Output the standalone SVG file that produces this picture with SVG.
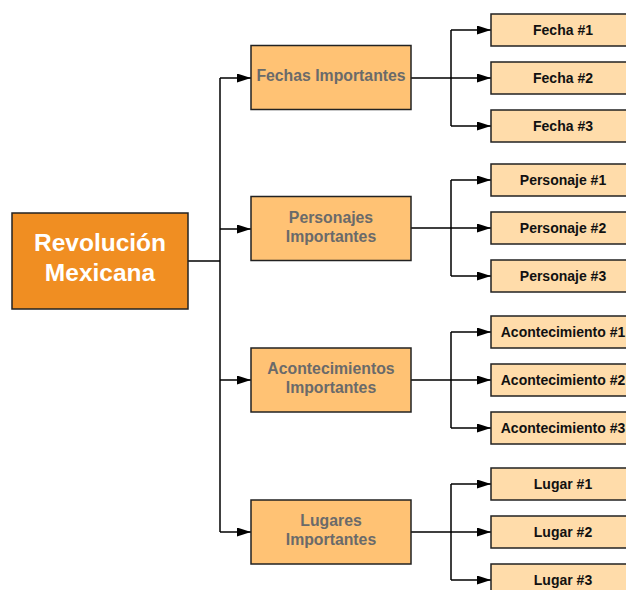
<svg xmlns="http://www.w3.org/2000/svg" width="626" height="590" viewBox="0 0 626 590">
  <defs>
    <marker id="arrow" viewBox="0 0 14 9" refX="14" refY="4.5" markerWidth="14" markerHeight="9" markerUnits="userSpaceOnUse" orient="auto">
      <path d="M0,0 L14,4.5 L0,9 Z" fill="#000"/>
    </marker>
  </defs>
  <style>
    .edge { fill: none; stroke: #000; stroke-width: 1.5; }
    .arr { marker-end: url(#arrow); }
    .root rect { fill: #F08E22; stroke: #222; stroke-width: 1.5; }
    .root text { fill: #fff; font: bold 24.5px "Liberation Sans", Arial, sans-serif; text-anchor: middle; }
    .topic rect { fill: #FFC274; stroke: #222; stroke-width: 1.5; }
    .topic text { fill: #6a6a6a; font: bold 15.8px "Liberation Sans", Arial, sans-serif; text-anchor: middle; }
    .leaf rect { fill: #FFDCAA; stroke: #222; stroke-width: 1.5; }
    .leaf text { fill: #111; font: bold 14px "Liberation Sans", Arial, sans-serif; text-anchor: middle; }
  </style>
  <rect width="626" height="590" fill="#fff"/>

  <g id="connectors">
    <!-- root to trunk -->
    <path class="edge" d="M188,261 H220"/>
    <path class="edge" d="M220,78 V532"/>
    <path class="edge arr" d="M220,78 H251"/>
    <path class="edge arr" d="M220,229 H251"/>
    <path class="edge arr" d="M220,380 H251"/>
    <path class="edge arr" d="M220,532 H251"/>
    <!-- Fechas -->
    <path class="edge" d="M411,78 H451 M451,30 V126"/>
    <path class="edge arr" d="M451,30 H491"/>
    <path class="edge arr" d="M451,78 H491"/>
    <path class="edge arr" d="M451,126 H491"/>
    <!-- Personajes -->
    <path class="edge" d="M411,228 H451 M451,180 V276"/>
    <path class="edge arr" d="M451,180 H491"/>
    <path class="edge arr" d="M451,228 H491"/>
    <path class="edge arr" d="M451,276 H491"/>
    <!-- Acontecimientos -->
    <path class="edge" d="M411,380 H451 M451,332 V428"/>
    <path class="edge arr" d="M451,332 H491"/>
    <path class="edge arr" d="M451,380 H491"/>
    <path class="edge arr" d="M451,428 H491"/>
    <!-- Lugares -->
    <path class="edge" d="M411,532 H451 M451,484 V580"/>
    <path class="edge arr" d="M451,484 H491"/>
    <path class="edge arr" d="M451,532 H491"/>
    <path class="edge arr" d="M451,580 H491"/>
  </g>

  <g id="root" class="root">
    <rect x="12" y="213" width="176" height="96"/>
    <text x="100" y="251">Revolución</text>
    <text x="100" y="280.5">Mexicana</text>
  </g>

  <g id="fechas" class="topic">
    <rect x="251" y="45.5" width="160" height="64"/>
    <text x="331" y="81">Fechas Importantes</text>
  </g>
  <g id="personajes" class="topic">
    <rect x="251" y="196.5" width="160" height="64"/>
    <text x="331" y="222.5">Personajes</text>
    <text x="331" y="242">Importantes</text>
  </g>
  <g id="acontecimientos" class="topic">
    <rect x="251" y="348" width="160" height="64"/>
    <text x="331" y="374">Acontecimientos</text>
    <text x="331" y="393">Importantes</text>
  </g>
  <g id="lugares" class="topic">
    <rect x="251" y="500" width="160" height="64"/>
    <text x="331" y="525.5">Lugares</text>
    <text x="331" y="545">Importantes</text>
  </g>

  <g id="fecha1" class="leaf"><rect x="491" y="14" width="144" height="32"/><text x="563" y="35">Fecha #1</text></g>
  <g id="fecha2" class="leaf"><rect x="491" y="62" width="144" height="32"/><text x="563" y="83">Fecha #2</text></g>
  <g id="fecha3" class="leaf"><rect x="491" y="110" width="144" height="32"/><text x="563" y="131">Fecha #3</text></g>

  <g id="personaje1" class="leaf"><rect x="491" y="164" width="144" height="32"/><text x="563" y="185">Personaje #1</text></g>
  <g id="personaje2" class="leaf"><rect x="491" y="212" width="144" height="32"/><text x="563" y="233">Personaje #2</text></g>
  <g id="personaje3" class="leaf"><rect x="491" y="260" width="144" height="32"/><text x="563" y="281">Personaje #3</text></g>

  <g id="acontecimiento1" class="leaf"><rect x="491" y="316" width="144" height="32"/><text x="563" y="337">Acontecimiento #1</text></g>
  <g id="acontecimiento2" class="leaf"><rect x="491" y="364" width="144" height="32"/><text x="563" y="385">Acontecimiento #2</text></g>
  <g id="acontecimiento3" class="leaf"><rect x="491" y="412" width="144" height="32"/><text x="563" y="433">Acontecimiento #3</text></g>

  <g id="lugar1" class="leaf"><rect x="491" y="468" width="144" height="32"/><text x="563" y="489">Lugar #1</text></g>
  <g id="lugar2" class="leaf"><rect x="491" y="516" width="144" height="32"/><text x="563" y="537">Lugar #2</text></g>
  <g id="lugar3" class="leaf"><rect x="491" y="564" width="144" height="32"/><text x="563" y="585">Lugar #3</text></g>
</svg>
